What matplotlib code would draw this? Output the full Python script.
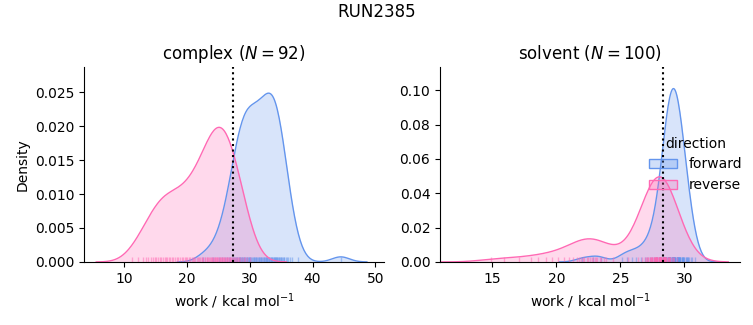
import numpy as np
import matplotlib
matplotlib.use("Agg")
import matplotlib.pyplot as plt
import seaborn as sns
from matplotlib.patches import Patch

complex_forward = [
    22.6, 24.1, 25.0, 25.6, 26.0, 26.4, 26.6, 26.9, 27.1, 27.3,
    27.5, 27.6, 27.8, 27.9, 28.0, 28.2, 28.3, 28.4, 28.5, 28.6,
    28.7, 28.8, 28.9, 29.0, 29.1, 29.3, 29.4, 29.5, 29.6, 29.7,
    29.8, 29.9, 30.0, 30.1, 30.2, 30.3, 30.5, 30.6, 30.7, 30.8,
    30.9, 31.0, 31.2, 31.3, 31.4, 31.5, 31.6, 31.7, 31.8, 31.9,
    32.1, 32.2, 32.3, 32.4, 32.5, 32.6, 32.7, 32.8, 32.9, 33.0,
    33.1, 33.2, 33.3, 33.4, 33.5, 33.6, 33.7, 33.8, 33.9, 34.0,
    34.0, 34.1, 34.2, 34.3, 34.4, 34.5, 34.6, 34.7, 34.8, 34.9,
    35.0, 35.1, 35.3, 35.4, 35.5, 35.7, 35.9, 36.1, 36.4, 36.8,
    37.6, 44.5,
]
complex_reverse = [
    11.2, 12.2, 12.9, 13.4, 13.8, 14.2, 14.5, 14.8, 15.1, 15.3,
    15.6, 15.9, 16.1, 16.4, 16.6, 16.8, 17.1, 17.3, 17.6, 17.8,
    18.1, 18.3, 18.6, 18.8, 19.1, 19.3, 19.6, 19.8, 20.0, 20.3,
    20.5, 20.7, 20.9, 21.1, 21.3, 21.5, 21.7, 21.9, 22.1, 22.3,
    22.4, 22.6, 22.8, 22.9, 23.1, 23.2, 23.4, 23.5, 23.6, 23.8,
    23.9, 24.0, 24.1, 24.3, 24.4, 24.5, 24.6, 24.7, 24.8, 24.9,
    25.1, 25.2, 25.3, 25.4, 25.5, 25.6, 25.7, 25.8, 25.9, 26.0,
    26.2, 26.3, 26.4, 26.5, 26.6, 26.8, 26.9, 27.0, 27.2, 27.3,
    27.5, 27.6, 27.8, 28.0, 28.1, 28.3, 28.5, 28.7, 29.0, 29.2,
    29.5, 30.1,
]
solvent_forward = [
    22.0, 22.9, 23.5, 25.1, 25.5, 25.9, 26.2, 26.6, 26.9, 27.1,
    27.3, 27.5, 27.6, 27.8, 27.9, 28.0, 28.1, 28.1, 28.2, 28.2,
    28.3, 28.3, 28.4, 28.4, 28.5, 28.5, 28.5, 28.6, 28.6, 28.6,
    28.6, 28.7, 28.7, 28.7, 28.7, 28.8, 28.8, 28.8, 28.8, 28.8,
    28.9, 28.9, 28.9, 28.9, 28.9, 29.0, 29.0, 29.0, 29.0, 29.0,
    29.1, 29.1, 29.1, 29.1, 29.1, 29.2, 29.2, 29.2, 29.2, 29.2,
    29.2, 29.3, 29.3, 29.3, 29.3, 29.4, 29.4, 29.4, 29.4, 29.4,
    29.5, 29.5, 29.5, 29.5, 29.6, 29.6, 29.6, 29.6, 29.7, 29.7,
    29.7, 29.7, 29.8, 29.8, 29.8, 29.9, 29.9, 29.9, 30.0, 30.0,
    30.1, 30.1, 30.2, 30.2, 30.3, 30.3, 30.4, 30.5, 30.6, 30.8,
]
solvent_reverse = [
    14.9, 15.9, 17.1, 18.0, 18.6, 19.2, 19.7, 20.1, 20.6, 21.0,
    21.3, 21.6, 21.8, 21.9, 22.1, 22.2, 22.4, 22.5, 22.6, 22.8,
    22.9, 23.0, 23.1, 23.2, 23.4, 23.5, 23.7, 23.9, 24.4, 25.6,
    26.4, 26.7, 26.9, 27.0, 27.1, 27.2, 27.2, 27.3, 27.3, 27.4,
    27.4, 27.5, 27.5, 27.5, 27.6, 27.6, 27.6, 27.7, 27.7, 27.7,
    27.8, 27.8, 27.8, 27.8, 27.9, 27.9, 27.9, 27.9, 27.9, 28.0,
    28.0, 28.0, 28.0, 28.1, 28.1, 28.1, 28.1, 28.1, 28.2, 28.2,
    28.2, 28.2, 28.2, 28.3, 28.3, 28.3, 28.3, 28.4, 28.4, 28.4,
    28.4, 28.4, 28.5, 28.5, 28.5, 28.5, 28.6, 28.6, 28.6, 28.7,
    28.7, 28.7, 28.8, 28.8, 28.9, 28.9, 29.0, 29.1, 29.2, 29.4,
]
# free-energy estimates marked by the dotted lines
complex_estimate = 27.34
solvent_estimate = 28.31
directions = ["forward", "reverse"]
phase_titles = ["complex ($N = 92$)", "solvent ($N = 100$)"]

TOTAL = len(complex_forward) + len(complex_reverse) + len(solvent_forward) + len(solvent_reverse)
BLUE = "cornflowerblue"
PINK = "hotpink"


def kde(s, total):
    s = np.asarray(s, dtype=float)
    n = len(s)
    bw = s.std(ddof=1) * n ** (-0.2)
    grid = np.linspace(s.min() - 3 * bw, s.max() + 3 * bw, 200)
    d = (grid[:, None] - s[None, :]) / bw
    y = np.exp(-0.5 * d ** 2).sum(1) / (n * bw * np.sqrt(2 * np.pi)) * n / total
    return grid, y


fig = plt.figure(figsize=(7.53, 3.25), dpi=100)
ax1 = fig.add_axes([0.1116, 0.194, 0.3984, 0.600])
ax2 = fig.add_axes([0.5843, 0.194, 0.3984, 0.600])
panels = [
    (ax1, complex_forward, complex_reverse, phase_titles[0], complex_estimate, (3.55, 51.4), (0, 0.0287),
     [10, 20, 30, 40, 50], np.arange(0, 0.026, 0.005), "{:.3f}"),
    (ax2, solvent_forward, solvent_reverse, phase_titles[1], solvent_estimate, (10.91, 34.35), (0, 0.1135),
     [15, 20, 25, 30], np.arange(0, 0.101, 0.02), "{:.2f}"),
]
for ax, f, r, title, vline, xl, yl, xt, yt, yfmt in panels:
    for s, c in [(f, BLUE), (r, PINK)]:
        gx, gy = kde(s, TOTAL)
        ax.fill_between(gx, gy, color=c, alpha=0.25, lw=0)
        ax.plot(gx, gy, color=c, lw=1)
        sns.rugplot(x=s, ax=ax, color=c, alpha=0.5, lw=1)
    ax.axvline(vline, color="black", ls=":", lw=1.5)
    ax.set_xlim(*xl)
    ax.set_ylim(*yl)
    ax.set_xticks(xt)
    ax.set_yticks(yt)
    ax.set_yticklabels([yfmt.format(v) for v in yt])
    ax.set_title(title, fontsize=12)
    ax.set_xlabel("work / kcal mol$^{-1}$")
    ax.spines["top"].set_visible(False)
    ax.spines["right"].set_visible(False)
ax1.set_ylabel("Density")
handles = [Patch(facecolor=matplotlib.colors.to_rgba(BLUE, 0.3), edgecolor=BLUE),
           Patch(facecolor=matplotlib.colors.to_rgba(PINK, 0.3), edgecolor=PINK)]
ax2.legend(handles, directions, title="direction", loc="center right",
           bbox_to_anchor=(1.025, 0.5), frameon=False, borderaxespad=0.0, handletextpad=0.8)
fig.suptitle("RUN2385", fontsize=12, y=0.963, va="center")
fig.savefig("out.png")
